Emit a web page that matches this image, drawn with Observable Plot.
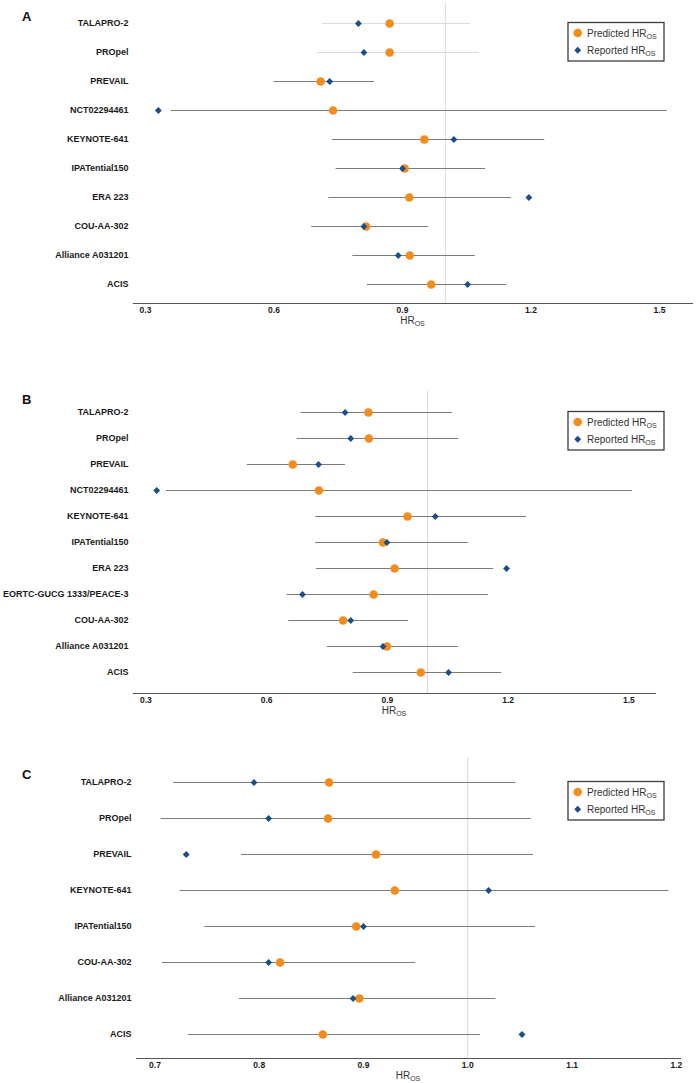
<!DOCTYPE html>
<html>
<head>
<meta charset="utf-8">
<script src="https://cdn.jsdelivr.net/npm/d3@7"></script>
<script src="https://cdn.jsdelivr.net/npm/@observablehq/plot@0.6"></script>
<style>
  body { margin: 0; background: #fff; font-family: "Liberation Sans", Arial, sans-serif; }
  #page { position: relative; width: 697px; height: 1083px; overflow: hidden; }
  .panel { position: absolute; left: 0; }
  .tag { position: absolute; left: 22px; font: bold 13px "Liberation Sans", Arial, sans-serif; color: #111; line-height: 1; }
</style>
</head>
<body>
<div id="page"></div>
<script>
// Panel A: trials, predicted and reported overall-survival hazard ratios, prediction intervals
const trialsA = ["TALAPRO-2", "PROpel", "PREVAIL", "NCT02294461", "KEYNOTE-641", "IPATential150", "ERA 223", "COU-AA-302", "Alliance A031201", "ACIS"];
const predictedA = [0.870, 0.870, 0.709, 0.738, 0.951, 0.905, 0.916, 0.815, 0.917, 0.967];
const reportedA  = [0.797, 0.810, 0.730, 0.330, 1.020, 0.900, 1.195, 0.810, 0.890, 1.052];
const lowerA     = [0.713, 0.701, 0.600, 0.360, 0.736, 0.745, 0.728, 0.688, 0.784, 0.818];
const upperA     = [1.059, 1.078, 0.835, 1.518, 1.232, 1.094, 1.154, 0.961, 1.070, 1.144];
const ticksA = [0.3, 0.6, 0.9, 1.2, 1.5];

// Panel B
const trialsB = ["TALAPRO-2", "PROpel", "PREVAIL", "NCT02294461", "KEYNOTE-641", "IPATential150", "ERA 223", "EORTC-GUCG 1333/PEACE-3", "COU-AA-302", "Alliance A031201", "ACIS"];
const predictedB = [0.853, 0.854, 0.665, 0.730, 0.950, 0.889, 0.918, 0.866, 0.790, 0.899, 0.983];
const reportedB  = [0.795, 0.809, 0.729, 0.327, 1.019, 0.899, 1.196, 0.689, 0.809, 0.889, 1.052];
const lowerB     = [0.685, 0.676, 0.552, 0.351, 0.722, 0.722, 0.724, 0.651, 0.655, 0.751, 0.815];
const upperB     = [1.062, 1.078, 0.796, 1.509, 1.246, 1.101, 1.164, 1.151, 0.952, 1.076, 1.184];
const ticksB = [0.3, 0.6, 0.9, 1.2, 1.5];

// Panel C
const trialsC = ["TALAPRO-2", "PROpel", "PREVAIL", "KEYNOTE-641", "IPATential150", "COU-AA-302", "Alliance A031201", "ACIS"];
const predictedC = [0.867, 0.866, 0.912, 0.930, 0.893, 0.820, 0.896, 0.861];
const reportedC  = [0.795, 0.809, 0.730, 1.020, 0.900, 0.809, 0.890, 1.052];
const lowerC     = [0.718, 0.706, 0.783, 0.724, 0.748, 0.707, 0.781, 0.732];
const upperC     = [1.046, 1.061, 1.063, 1.193, 1.065, 0.950, 1.027, 1.012];
const ticksC = [0.7, 0.8, 0.9, 1.0, 1.1, 1.2];

const legendLabels = ["Predicted HR", "Reported HR"];
const axisTitle = "HR";
const subscript = "OS";

const ORANGE = "#F28D1D";
const BLUE = "#1C4E88";
const FONT = "Liberation Sans, Arial, sans-serif";
const page = document.getElementById("page");

function drawPanel(cfg) {
  const rows = cfg.trials.map((trial, i) => ({
    trial,
    predicted: cfg.predicted[i],
    reported: cfg.reported[i],
    lower: cfg.lower[i],
    upper: cfg.upper[i]
  }));
  const faded = cfg.faded || [];
  const marginTop = 3;
  const marginBottom = cfg.height - marginTop - cfg.plotHeight;

  const chart = Plot.plot({
    width: 697,
    height: cfg.height,
    marginTop,
    marginBottom,
    marginLeft: cfg.left,
    marginRight: 697 - cfg.right,
    style: { fontFamily: FONT, background: "transparent", overflow: "visible" },
    x: { domain: cfg.domain },
    y: { type: "point", domain: cfg.trials, padding: 0.6 },
    marks: [
      Plot.ruleX([1], { stroke: "#d9d9d9", strokeWidth: 1 }),
      Plot.ruleY(rows.filter(d => !faded.includes(d.trial)), { y: "trial", x1: "lower", x2: "upper", stroke: "#7c7c7c", strokeWidth: 1.2 }),
      Plot.ruleY(rows.filter(d => faded.includes(d.trial)), { y: "trial", x1: "lower", x2: "upper", stroke: "#dcdcdc", strokeWidth: 1.2 }),
      Plot.dot(rows, { x: "predicted", y: "trial", r: 4.3, fill: ORANGE, stroke: null }),
      Plot.dot(rows, { x: "reported", y: "trial", r: 3.1, symbol: "diamond2", fill: BLUE, stroke: null }),
      Plot.axisY({ tickSize: 0, tickPadding: 5, fontSize: 9, fontWeight: "bold", fill: "#1a1a1a", label: null }),
      Plot.axisX({ ticks: cfg.ticks, tickFormat: d3.format(".1f"), tickSize: 0, tickPadding: 3, fontSize: 8.5, fontWeight: "bold", fill: "#1a1a1a", label: null }),
      Plot.frame({ anchor: "bottom", stroke: "#555", strokeWidth: 1.2 })
    ]
  });

  const svg = d3.select(chart);
  const [x0, x1] = chart.scale("x").range;
  const axisY = cfg.height - marginBottom;

  // axis title with subscript
  const title = svg.append("text")
    .attr("x", (x0 + x1) / 2)
    .attr("y", axisY + 21)
    .attr("text-anchor", "middle")
    .attr("font-family", FONT)
    .attr("font-size", 10)
    .attr("fill", "#333");
  title.append("tspan").text(axisTitle);
  title.append("tspan").attr("font-size", 7).attr("dy", 2).text(subscript);

  // legend box, aligned with the first trial row
  const yFirst = chart.scale("y").apply(cfg.trials[0]);
  const bx = 568, by = yFirst - 0.5, bw = 96, bh = 38.5;
  const g = svg.append("g").attr("text-anchor", "start");
  g.append("rect").attr("x", bx).attr("y", by).attr("width", bw).attr("height", bh)
    .attr("fill", "#fff").attr("stroke", "#3c3c3c").attr("stroke-width", 1.3);
  const items = [
    { label: legendLabels[0], sym: d3.symbolCircle, size: Math.PI * 4.3 * 4.3, color: ORANGE },
    { label: legendLabels[1], sym: d3.symbolDiamond2, size: Math.PI * 3.1 * 3.1, color: BLUE }
  ];
  items.forEach((it, i) => {
    const cy = by + 10.5 + i * 17.3;
    g.append("path").attr("d", d3.symbol(it.sym, it.size)()).attr("transform", `translate(${bx + 9.7},${cy})`).attr("fill", it.color);
    const t = g.append("text").attr("x", bx + 19).attr("y", cy + 3.5).attr("text-anchor", "start")
      .attr("font-family", FONT).attr("font-size", 10).attr("fill", "#333");
    t.append("tspan").text(it.label);
    t.append("tspan").attr("font-size", 7).attr("dy", 2).text(subscript);
  });

  chart.classList.add("panel");
  chart.style.top = cfg.top + "px";
  page.appendChild(chart);

  const tag = document.createElement("div");
  tag.className = "tag";
  tag.textContent = cfg.tag;
  tag.style.top = cfg.tagTop + "px";
  page.appendChild(tag);
}

drawPanel({
  tag: "A", tagTop: 10, top: 0, height: 333, plotHeight: 300, left: 133, right: 692,
  domain: [0.272, 1.577], ticks: ticksA,
  trials: trialsA, predicted: predictedA, reported: reportedA, lower: lowerA, upper: upperA,
  faded: ["TALAPRO-2", "PROpel"]
});
drawPanel({
  tag: "B", tagTop: 393, top: 388, height: 335, plotHeight: 302, left: 133, right: 655,
  domain: [0.2694, 1.566], ticks: ticksB,
  trials: trialsB, predicted: predictedB, reported: reportedB, lower: lowerB, upper: upperB
});
drawPanel({
  tag: "C", tagTop: 768, top: 754, height: 329, plotHeight: 301, left: 136, right: 680,
  domain: [0.6823, 1.204], ticks: ticksC,
  trials: trialsC, predicted: predictedC, reported: reportedC, lower: lowerC, upper: upperC
});
</script>
</body>
</html>
